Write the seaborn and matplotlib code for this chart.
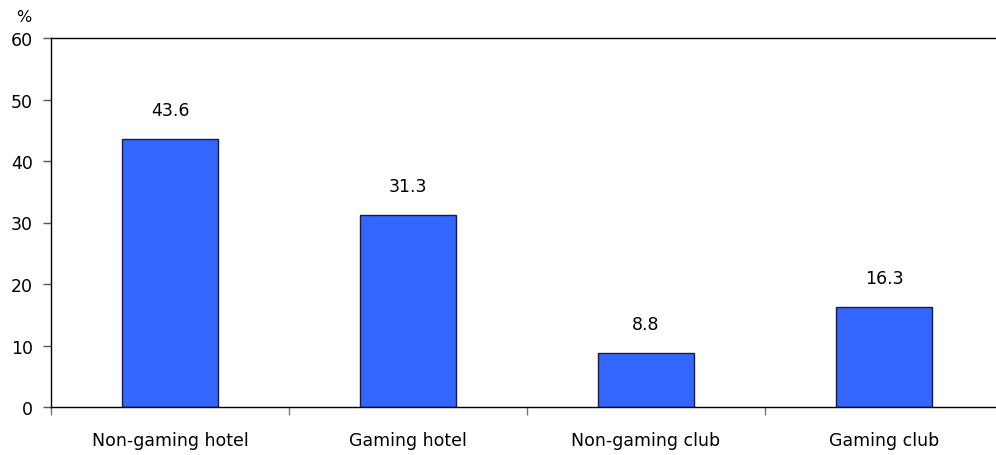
import matplotlib
matplotlib.use("Agg")
import matplotlib.pyplot as plt
import seaborn as sns
import pandas as pd
from matplotlib.ticker import FixedLocator, NullFormatter

categories = ["Non-gaming hotel", "Gaming hotel", "Non-gaming club", "Gaming club"]
values = [43.6, 31.3, 8.8, 16.3]
yticks = [0, 10, 20, 30, 40, 50, 60]

sns.set_theme(style="white")
plt.rcParams['font.family'] = ['DejaVu Sans']

df = pd.DataFrame({"cat": categories, "val": values})

fig = plt.figure(figsize=(9.96, 4.56), dpi=100)
W, H = 996, 456
ax = fig.add_axes([51 / W, (H - 408) / H, (1003 - 51) / W, (408 - 39) / H])

sns.barplot(data=df, x="cat", y="val", color="#3366FF", width=0.4,
            edgecolor="#1a1a40", linewidth=1.0, saturation=1, ax=ax)

ax.set_xlim(-0.5, 3.5)
ax.set_ylim(0, 60)
ax.set_yticks(yticks)
ax.set_xlabel("")
ax.set_ylabel("")

for sp in ["left", "bottom", "top"]:
    ax.spines[sp].set_visible(True)
    ax.spines[sp].set_color("black")
    ax.spines[sp].set_linewidth(1.0)
ax.spines["right"].set_visible(False)

ax.tick_params(axis="y", which="major", direction="out", length=6, width=1,
               color="#555555", labelsize=12.5, labelcolor="black", pad=7, left=True)
ax.tick_params(axis="x", which="major", length=0, labelsize=12.5, labelcolor="black", pad=17)
ax.xaxis.set_minor_locator(FixedLocator([-0.5, 0.5, 1.5, 2.5, 3.5]))
ax.xaxis.set_minor_formatter(NullFormatter())
ax.tick_params(axis="x", which="minor", direction="out", length=6, width=1,
               color="#777777", bottom=True)

for i, v in enumerate(values):
    ax.annotate(f"{v:.1f}", (i, v), xytext=(0, 14), textcoords="offset points",
                ha="center", va="bottom", fontsize=12.5, color="black")

fig.text(24 / W, 1 - 17 / H, "%", ha="center", va="center", fontsize=11.5, color="black")

fig.savefig("out.png", dpi=100)
